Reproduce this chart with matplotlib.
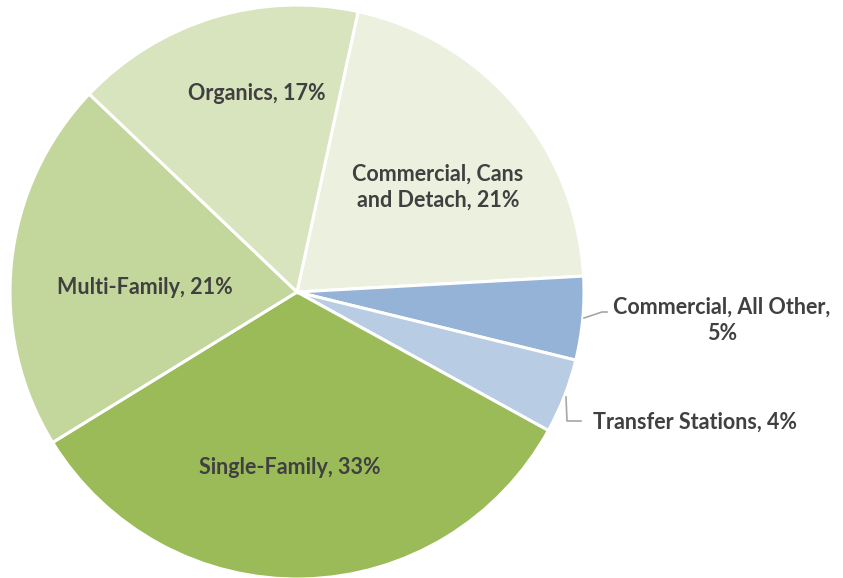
import numpy as np
import matplotlib.pyplot as plt

# slice data, clockwise from the top
labels = ["Commercial, Cans\nand Detach, 21%", "Commercial, All Other,\n5%",
          "Transfer Stations, 4%", "Single-Family, 33%", "Multi-Family, 21%",
          "Organics, 17%"]
values = [20.7, 4.7, 4.2, 33.2, 20.9, 16.3]
colors = ["#EBF1DE", "#95B3D7", "#B8CCE4", "#9BBB59", "#C3D69B", "#D7E4BD"]

W, H = 843, 578
cx, cy, R = 297, 292, 287


def px(x, y):
    # pixel position -> pie data coords
    return (x - cx) / R, (cy - y) / R


fig = plt.figure(figsize=(W / 100, H / 100), dpi=100)
ax = fig.add_axes([(cx - R) / W, (H - cy - R) / H, 2 * R / W, 2 * R / H])
ax.pie(values, colors=colors, startangle=77.7, counterclock=False,
       wedgeprops=dict(edgecolor="white", linewidth=2.2))
ax.set_xlim(-1, 1)
ax.set_ylim(-1, 1)
ax.set_aspect("equal")
ax.axis("off")

txt = dict(fontsize=15.5, fontweight="bold", color="#404040",
           family=["Lato", "DejaVu Sans"], ha="center", va="center",
           linespacing=1.3)
label_px = [(438, 187), (722, 320), (695, 422), (290, 467), (145, 288), (257, 93)]
for lab, (x, y) in zip(labels, label_px):
    ax.text(*px(x, y), lab, **txt)

# leader lines
for pts in [[(584, 318), (602, 312), (607, 312)],
            [(566, 397), (567, 421), (581, 421)]]:
    xy = np.array([px(*p) for p in pts])
    ax.plot(xy[:, 0], xy[:, 1], color="#A6A6A6", lw=1.2, clip_on=False)

fig.savefig("out.png", dpi=100)
